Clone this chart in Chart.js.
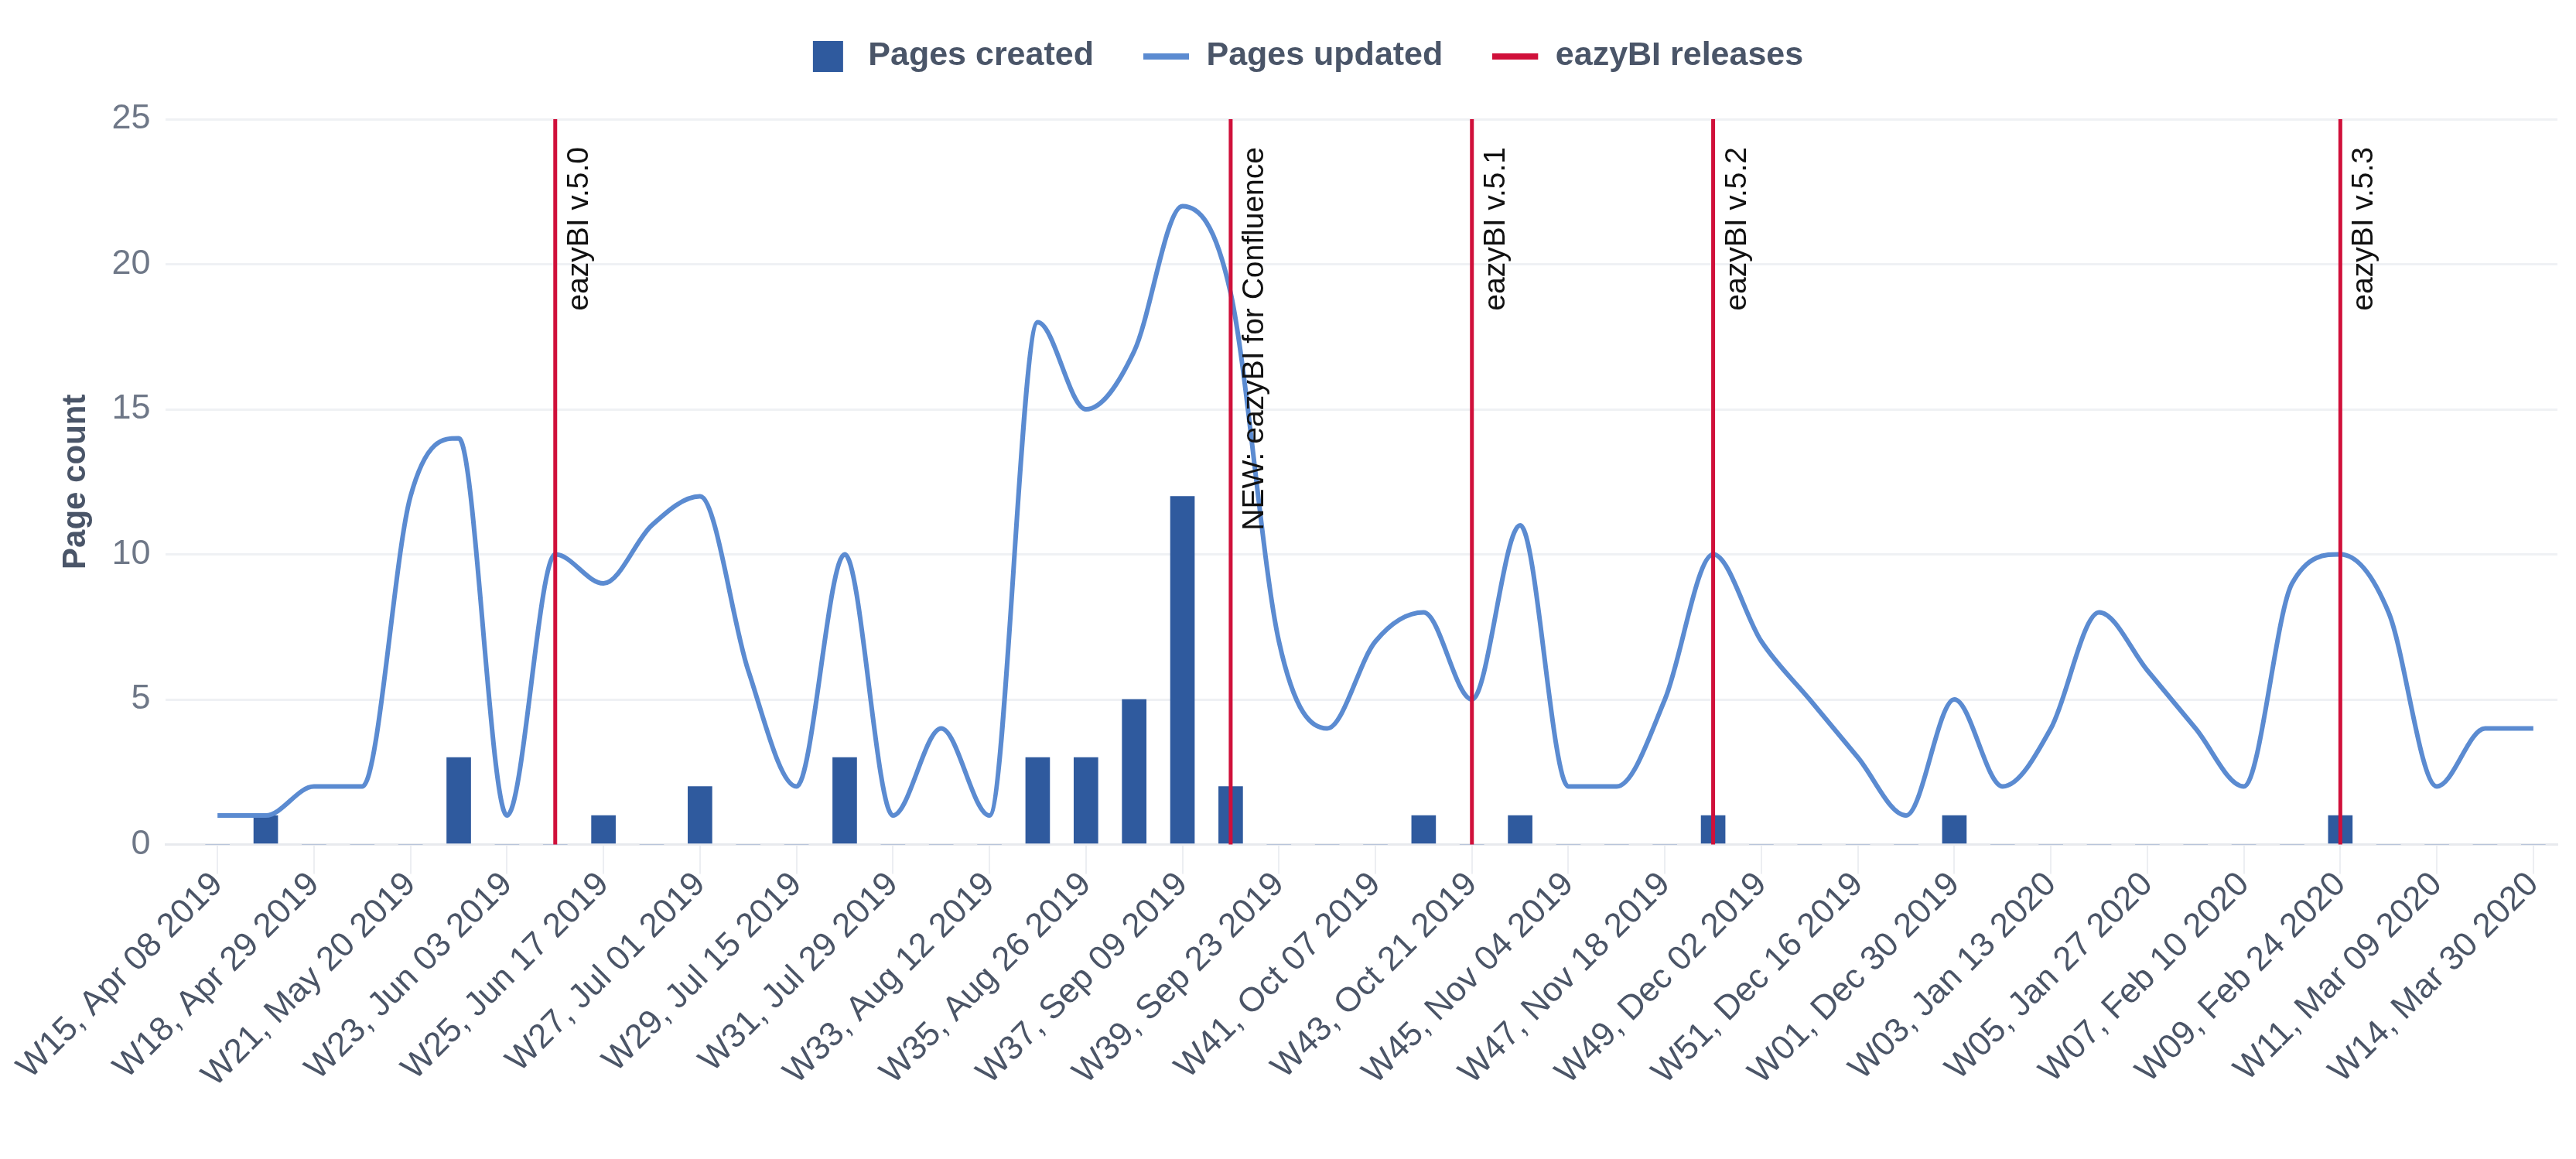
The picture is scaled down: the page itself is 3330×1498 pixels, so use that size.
<!DOCTYPE html>
<html lang="en">
<head>
    <meta charset="utf-8">
    <title>Confluence pages and eazyBI releases</title>
    <script src="https://cdn.jsdelivr.net/npm/chart.js@4.4.1/dist/chart.umd.min.js"></script>
    <style>
        html, body { margin: 0; padding: 0; background: #ffffff; }
        #wrap { width: 3330px; height: 1498px; position: relative; }
    </style>
</head>
<body>
    <div id="wrap"><canvas id="pagesChart"></canvas></div>
    <script>
        // --- data ---
        const weekLabels = [
            'W15, Apr 08 2019', 'W17, Apr 22 2019', 'W18, Apr 29 2019', 'W20, May 13 2019',
            'W21, May 20 2019', 'W22, May 27 2019', 'W23, Jun 03 2019', 'W24, Jun 10 2019',
            'W25, Jun 17 2019', 'W26, Jun 24 2019', 'W27, Jul 01 2019', 'W28, Jul 08 2019',
            'W29, Jul 15 2019', 'W30, Jul 22 2019', 'W31, Jul 29 2019', 'W32, Aug 05 2019',
            'W33, Aug 12 2019', 'W34, Aug 19 2019', 'W35, Aug 26 2019', 'W36, Sep 02 2019',
            'W37, Sep 09 2019', 'W38, Sep 16 2019', 'W39, Sep 23 2019', 'W40, Sep 30 2019',
            'W41, Oct 07 2019', 'W42, Oct 14 2019', 'W43, Oct 21 2019', 'W44, Oct 28 2019',
            'W45, Nov 04 2019', 'W46, Nov 11 2019', 'W47, Nov 18 2019', 'W48, Nov 25 2019',
            'W49, Dec 02 2019', 'W50, Dec 09 2019', 'W51, Dec 16 2019', 'W52, Dec 23 2019',
            'W01, Dec 30 2019', 'W02, Jan 06 2020', 'W03, Jan 13 2020', 'W04, Jan 20 2020',
            'W05, Jan 27 2020', 'W06, Feb 03 2020', 'W07, Feb 10 2020', 'W08, Feb 17 2020',
            'W09, Feb 24 2020', 'W10, Mar 02 2020', 'W11, Mar 09 2020', 'W12, Mar 16 2020',
            'W14, Mar 30 2020'
        ];
        const pagesCreated = [
            0, 1, 0, 0, 0, 3, 0, 0, 1, 0, 2, 0, 0, 3, 0, 0, 0, 3, 3, 5,
            12, 2, 0, 0, 0, 1, 0, 1, 0, 0, 0, 1, 0, 0, 0, 0, 1, 0, 0, 0,
            0, 0, 0, 0, 1, 0, 0, 0, 0
        ];
        const pagesUpdated = [
            1, 1, 2, 2, 12, 14, 1, 10, 9, 11, 12, 6, 2, 10, 1, 4, 1, 18, 15, 17,
            22, 19, 7, 4, 7, 8, 5, 11, 2, 2, 5, 10, 7, 5, 3, 1, 5, 2, 4, 8,
            6, 4, 2, 9, 10, 8, 2, 4, 4
        ];
        const releaseWeeks = ['W24, Jun 10 2019', 'W38, Sep 16 2019', 'W43, Oct 21 2019', 'W48, Nov 25 2019', 'W09, Feb 24 2020'];
        const releaseNames = ['eazyBI v.5.0', 'NEW: eazyBI for Confluence', 'eazyBI v.5.1', 'eazyBI v.5.2', 'eazyBI v.5.3'];
        const yTicks = [0, 5, 10, 15, 20, 25];

        const FONT = '"Liberation Sans", Arial, sans-serif';
        const BAR_COLOR = '#2f5a9e';
        const LINE_COLOR = '#5b8bd1';
        const RELEASE_COLOR = '#d0103a';

        // legend markers drawn into small canvases
        function makeMarker(kind, color) {
            const c = document.createElement('canvas');
            c.width = 60;
            c.height = 41;
            const g = c.getContext('2d');
            g.fillStyle = color;
            if (kind === 'box') g.fillRect(10, 1, 39, 40);
            else g.fillRect(0, 17, 59, 8);
            return c;
        }
        const markers = [makeMarker('box', BAR_COLOR), makeMarker('line', LINE_COLOR), makeMarker('line', RELEASE_COLOR)];

        // extra room under the legend
        const legendSpacer = {
            id: 'legendSpacer',
            beforeInit(chart) {
                const fit = chart.legend.fit;
                chart.legend.fit = function () {
                    fit.call(this);
                    this.height += 50;
                };
            }
        };

        // vertical release lines with rotated names
        const releaseLines = {
            id: 'releaseLines',
            afterDatasetsDraw(chart) {
                const { ctx, chartArea, scales } = chart;
                ctx.save();
                releaseWeeks.forEach((week, k) => {
                    const px = scales.x.getPixelForValue(weekLabels.indexOf(week));
                    ctx.strokeStyle = RELEASE_COLOR;
                    ctx.lineWidth = 5;
                    ctx.beginPath();
                    ctx.moveTo(px, chartArea.top);
                    ctx.lineTo(px, chartArea.bottom);
                    ctx.stroke();

                    ctx.save();
                    ctx.translate(px + 42, chartArea.top + 36);
                    ctx.rotate(-Math.PI / 2);
                    ctx.textAlign = 'right';
                    ctx.textBaseline = 'alphabetic';
                    ctx.fillStyle = '#111111';
                    ctx.font = '39px ' + FONT;
                    ctx.fillText(releaseNames[k], 0, 0);
                    ctx.restore();
                });
                ctx.restore();
            }
        };

        const ctx = document.getElementById('pagesChart').getContext('2d');
        const pagesChart = new Chart(ctx, {
            type: 'bar',
            data: {
                datasets: [{
                    type: 'bar',
                    label: 'Pages created',
                    data: pagesCreated.map((v, i) => ({ x: i, y: v })),
                    backgroundColor: BAR_COLOR,
                    barThickness: 31,
                    order: 2
                }, {
                    type: 'line',
                    label: 'Pages updated',
                    data: pagesUpdated.map((v, i) => ({ x: i, y: v })),
                    borderColor: LINE_COLOR,
                    borderWidth: 6,
                    pointRadius: 0,
                    cubicInterpolationMode: 'monotone',
                    fill: false,
                    order: 1
                }, {
                    type: 'line',
                    label: 'eazyBI releases',
                    data: [],
                    borderColor: RELEASE_COLOR,
                    order: 0
                }]
            },
            options: {
                responsive: true,
                maintainAspectRatio: false,
                animation: false,
                layout: { padding: { left: 66, right: 24, top: -13, bottom: 94 } },
                plugins: {
                    tooltip: { enabled: false },
                    legend: {
                        position: 'top',
                        align: 'center',
                        labels: {
                            usePointStyle: true,
                            pointStyleWidth: 60,
                            boxHeight: 41,
                            padding: 64,
                            color: '#4a5568',
                            font: { family: FONT, size: 43, weight: 'bold' },
                            generateLabels: (chart) => chart.data.datasets.map((ds, i) => ({
                                text: ds.label,
                                pointStyle: markers[i],
                                datasetIndex: i,
                                hidden: !chart.isDatasetVisible(i),
                                fontColor: '#4a5568',
                                fillStyle: 'rgba(0,0,0,0)',
                                strokeStyle: 'rgba(0,0,0,0)',
                                lineWidth: 0
                            }))
                        }
                    }
                },
                scales: {
                    x: {
                        type: 'linear',
                        bounds: 'data',
                        offset: false,
                        min: -1.07,
                        max: 48.5,
                        afterBuildTicks: (scale) => {
                            scale.ticks = weekLabels.map((_, i) => ({ value: i })).filter(t => t.value % 2 === 0);
                        },
                        grid: {
                            offset: false,
                            drawOnChartArea: false,
                            drawTicks: true,
                            tickLength: 38,
                            color: '#eceef2',
                            lineWidth: 2
                        },
                        border: { display: true, color: '#e8eaee', width: 3 },
                        ticks: {
                            autoSkip: false,
                            minRotation: 45,
                            maxRotation: 45,
                            padding: -12,
                            color: '#4b5567',
                            font: { family: FONT, size: 44 },
                            callback: (value) => weekLabels[value]
                        }
                    },
                    y: {
                        min: 0,
                        max: 25,
                        afterBuildTicks: (scale) => {
                            scale.ticks = yTicks.map(v => ({ value: v }));
                        },
                        grid: { color: '#eff1f4', lineWidth: 3, drawTicks: false },
                        border: { display: false },
                        ticks: {
                            padding: 20,
                            color: '#6e7787',
                            font: { family: FONT, size: 45 }
                        },
                        title: {
                            display: true,
                            text: 'Page count',
                            color: '#4a5568',
                            font: { family: FONT, size: 42, weight: 'bold' },
                            padding: { top: 7, bottom: 1 }
                        }
                    }
                }
            },
            plugins: [legendSpacer, releaseLines]
        });
    </script>
</body>
</html>
